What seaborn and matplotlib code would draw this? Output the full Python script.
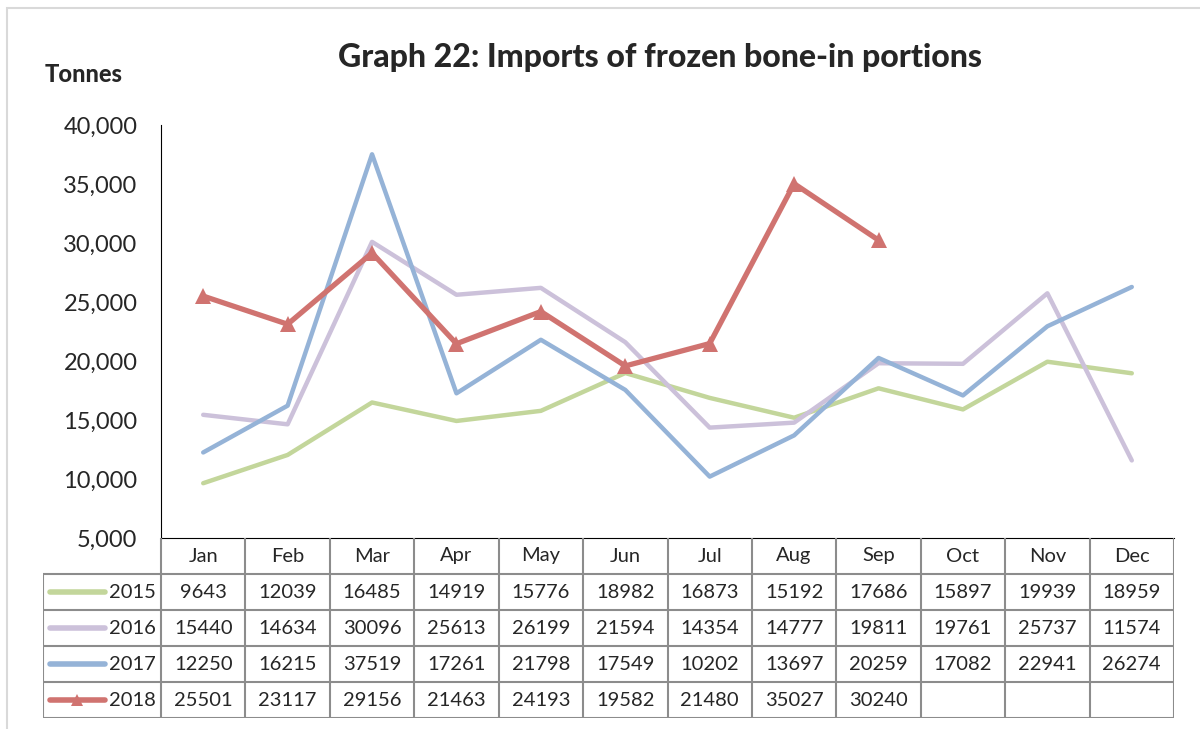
import numpy as np
import pandas as pd
import matplotlib
import matplotlib.pyplot as plt
import seaborn as sns
from matplotlib.patches import Rectangle

matplotlib.use('Agg')

months = ['Jan', 'Feb', 'Mar', 'Apr', 'May', 'Jun', 'Jul', 'Aug', 'Sep', 'Oct', 'Nov', 'Dec']
years = ['2015', '2016', '2017', '2018']
v2015 = [9643, 12039, 16485, 14919, 15776, 18982, 16873, 15192, 17686, 15897, 19939, 18959]
v2016 = [15440, 14634, 30096, 25613, 26199, 21594, 14354, 14777, 19811, 19761, 25737, 11574]
v2017 = [12250, 16215, 37519, 17261, 21798, 17549, 10202, 13697, 20259, 17082, 22941, 26274]
v2018 = [25501, 23117, 29156, 21463, 24193, 19582, 21480, 35027, 30240, None, None, None]
yticks = [5000, 10000, 15000, 20000, 25000, 30000, 35000, 40000]

colors = {'2015': '#c3d69b', '2016': '#ccc1da', '2017': '#95b3d7', '2018': '#d07370'}


def main():
    sns.set_style('white')
    plt.rcParams['font.family'] = ['Lato', 'DejaVu Sans']

    series = dict(zip(years, [v2015, v2016, v2017, v2018]))
    df = pd.DataFrame({y: pd.Series(v, dtype=float) for y, v in series.items()})
    df['pos'] = np.arange(len(months))

    W, H = 1200, 729
    fig = plt.figure(figsize=(12, 7.29), dpi=100)

    def px(l, t, r, b):
        return [l / W, 1 - b / H, (r - l) / W, (b - t) / H]

    # light frame around chart (right/bottom edges fall outside the image)
    fig.patches.append(Rectangle((7 / W, -0.05), 1.1, 1.05 - 8 / H, transform=fig.transFigure,
                                 fill=False, ec='#d9d9d9', lw=1.5))

    ax = fig.add_axes(px(161, 125, 1174, 538))
    for y in years:
        kw = dict(marker='^', markersize=11, markeredgewidth=0) if y == '2018' else {}
        sns.lineplot(data=df, x='pos', y=y, ax=ax, color=colors[y],
                     lw=3.8 if y == '2018' else 3.2, solid_capstyle='round', **kw)

    ax.set_xlim(-0.5, 11.5)
    ax.set_ylim(5000, 40000)
    ax.set_yticks(yticks)
    ax.set_yticklabels([f'{t:,}' for t in yticks], fontsize=17)
    ax.set_xticks([])
    ax.set_xlabel('')
    ax.set_ylabel('')
    ax.tick_params(axis='y', length=0, pad=17)
    for s in ['top', 'right']:
        ax.spines[s].set_visible(False)
    ax.spines['left'].set_color('black')
    ax.spines['bottom'].set_color('black')

    fig.text(660 / W, 1 - 57 / H, 'Graph 22: Imports of frozen bone-in portions',
             ha='center', va='center', fontsize=23, fontweight='black')
    fig.text(45 / W, 1 - 75 / H, 'Tonnes', ha='left', va='center',
             fontsize=17, fontweight='black')

    # data table under the chart
    tx = fig.add_axes(px(43, 538, 1174, 718))
    unit = (1174 - 161) / 12
    x0 = -0.5 - 118 / unit
    tx.set_xlim(x0, 11.5)
    tx.set_ylim(5, 0)
    tx.axis('off')
    gc = '#8c8c8c'
    tx.plot([-0.5, 11.5], [0, 0], color='black', lw=1.2)
    for k in range(1, 6):
        tx.plot([x0, 11.5], [k, k], color=gc, lw=1.5)
    for k in range(13):
        tx.plot([k - 0.5] * 2, [0, 5], color=gc, lw=1.5)
    tx.plot([x0, x0], [1, 5], color=gc, lw=1.5)
    for i, m in enumerate(months):
        tx.text(i, 0.5, m, ha='center', va='center', fontsize=14.5)
    lx0 = x0 + 7 / unit
    lx1 = x0 + 62 / unit
    for r, y in enumerate(years, start=1):
        kw = dict(marker='^', markersize=9, markeredgewidth=0, markevery=[1]) if y == '2018' else {}
        tx.plot([lx0, (lx0 + lx1) / 2, lx1], [r + 0.5] * 3, color=colors[y], lw=4,
                solid_capstyle='round', **kw)
        tx.text(x0 + 66 / unit, r + 0.5, y, ha='left', va='center', fontsize=14.5)
        for i, v in enumerate(series[y]):
            if v is not None:
                tx.text(i, r + 0.5, str(v), ha='center', va='center', fontsize=14.5)

    fig.savefig('out.png', dpi=100)


if __name__ == "__main__":
    main()
